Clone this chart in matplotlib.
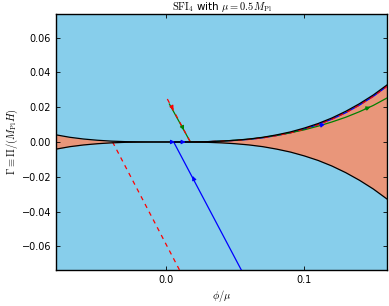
import matplotlib
matplotlib.use("Agg")
import matplotlib.pyplot as plt
import numpy as np

plt.rcParams['mathtext.fontset'] = 'cm'
plt.rcParams['font.family'] = ['DejaVu Sans']

# boundary of the slow-roll region (upper = +b, lower = -b)
bound_x = [-0.08, -0.07, -0.06, -0.05, -0.04, -0.03, -0.02, -0.01, 0.0, 0.01,
           0.02, 0.03, 0.04, 0.05, 0.06, 0.07, 0.08, 0.09, 0.10, 0.11, 0.12,
           0.13, 0.14, 0.15, 0.16]
bound_y = [-0.0041, -0.0027, -0.0017, -0.0010, -0.0005, -0.0002, -0.0001, 0.0, 0.0, 0.0,
           0.0001, 0.0002, 0.0005, 0.0010, 0.0017, 0.0027, 0.0041, 0.0058, 0.0080, 0.0106,
           0.0138, 0.0176, 0.0220, 0.0270, 0.0328]

# green trajectory
green_x = [0.0022, 0.0174, 0.03, 0.04, 0.05, 0.06, 0.07, 0.08, 0.09, 0.10, 0.11,
           0.12, 0.13, 0.14, 0.15, 0.16]
green_y = [0.0218, 0.0, 0.0002, 0.0005, 0.0010, 0.0016, 0.0026, 0.0038, 0.0053, 0.0070,
           0.0091, 0.0115, 0.0142, 0.0174, 0.0210, 0.0253]

# blue trajectory (runs just under the boundary after x = 0.0174)
blue_x = [0.0543, 0.0053, 0.0174, 0.03, 0.04, 0.05, 0.06, 0.07, 0.08, 0.09, 0.10,
          0.11, 0.12, 0.13, 0.14, 0.15, 0.16]
blue_y = [-0.0735, 0.0, 0.0, 0.0002, 0.0005, 0.0009, 0.0015, 0.0024, 0.0037, 0.0053,
          0.0074, 0.0100, 0.0131, 0.0168, 0.0212, 0.0262, 0.0320]

# red dashed trajectory (upper part + lower left segment)
red_x = [0.0007, 0.0174, 0.03, 0.04, 0.05, 0.06, 0.07, 0.08, 0.09, 0.10, 0.11,
         0.12, 0.13, 0.14, 0.15, 0.16]
red_y = [0.0247, 0.0, 0.0002, 0.0005, 0.0009, 0.0015, 0.0024, 0.0037, 0.0053, 0.0074,
         0.0100, 0.0131, 0.0168, 0.0212, 0.0262, 0.0320]
red2_x = [-0.039, 0.0095]
red2_y = [0.0, -0.0735]

# arrow positions (tail -> head)
blue_arrows = [((0.0033, 0.0), (0.0063, 0.0)), ((0.0110, 0.0), (0.0140, 0.0)),
               ((0.0200, -0.0215), (0.0190, -0.0195)), ((0.1120, 0.0096), (0.1150, 0.0102))]
green_arrows = [((0.0115, 0.0088), (0.0128, 0.0068)), ((0.1440, 0.0190), (0.1480, 0.0202))]
red_arrows = [((0.0040, 0.0202), (0.0052, 0.0184))]

xticks = [0.0, 0.1]
yticks = [-0.06, -0.04, -0.02, 0.0, 0.02, 0.04, 0.06]

fig = plt.figure(figsize=(3.89, 3.06), dpi=100)
ax = fig.add_axes([0.144, 0.118, 0.851, 0.836])
ax.set_facecolor('#87CEEB')

bx = np.array(bound_x)
by = np.array(bound_y)
ax.fill_between(bx, -np.abs(by), np.abs(by), color='#E9967A', lw=0, zorder=1)

ax.plot(blue_x, blue_y, color='blue', lw=0.9, zorder=3)
ax.plot(green_x, green_y, color='green', lw=0.9, zorder=4)
ax.plot(red_x, red_y, color='red', lw=0.9, ls=(0, (3.5, 3.5)), zorder=5)
ax.plot(red2_x, red2_y, color='red', lw=0.9, ls=(0, (3.5, 3.5)), zorder=5)

ax.plot(bx, by, color='k', lw=0.9, zorder=5.5)
ax.plot(bx, -by, color='k', lw=0.9, zorder=5.5)

for arrows, c in [(blue_arrows, 'blue'), (green_arrows, 'green'), (red_arrows, 'red')]:
    for (t, h) in arrows:
        ax.annotate('', xy=h, xytext=t,
                    arrowprops=dict(arrowstyle='-|>', color=c, lw=0.8,
                                    mutation_scale=6, shrinkA=0, shrinkB=0),
                    zorder=6)

ax.set_xlim(-0.08, 0.16)
ax.set_ylim(-0.0735, 0.0735)
ax.set_xticks(xticks)
ax.set_yticks(yticks)
ax.set_xticklabels(['0.0', '0.1'])
ax.set_yticklabels(['\u22120.06', '\u22120.04', '\u22120.02', '0.00', '0.02', '0.04', '0.06'])
ax.tick_params(direction='in', top=True, right=True, labelsize=7, length=3, width=0.6)
for s in ax.spines.values():
    s.set_linewidth(1.0)

ax.set_title(r'$\mathrm{SFI}_4$ with $\mu=0.5M_{\rm Pl}$', fontsize=7.5, pad=3)
ax.set_xlabel(r'$\phi/\mu$', fontsize=7.5, labelpad=2)
ax.set_ylabel(r'$\Gamma\equiv\Pi/(M_{\rm Pl}H)$', fontsize=7.5, labelpad=1)

fig.savefig('out.png', dpi=100)
